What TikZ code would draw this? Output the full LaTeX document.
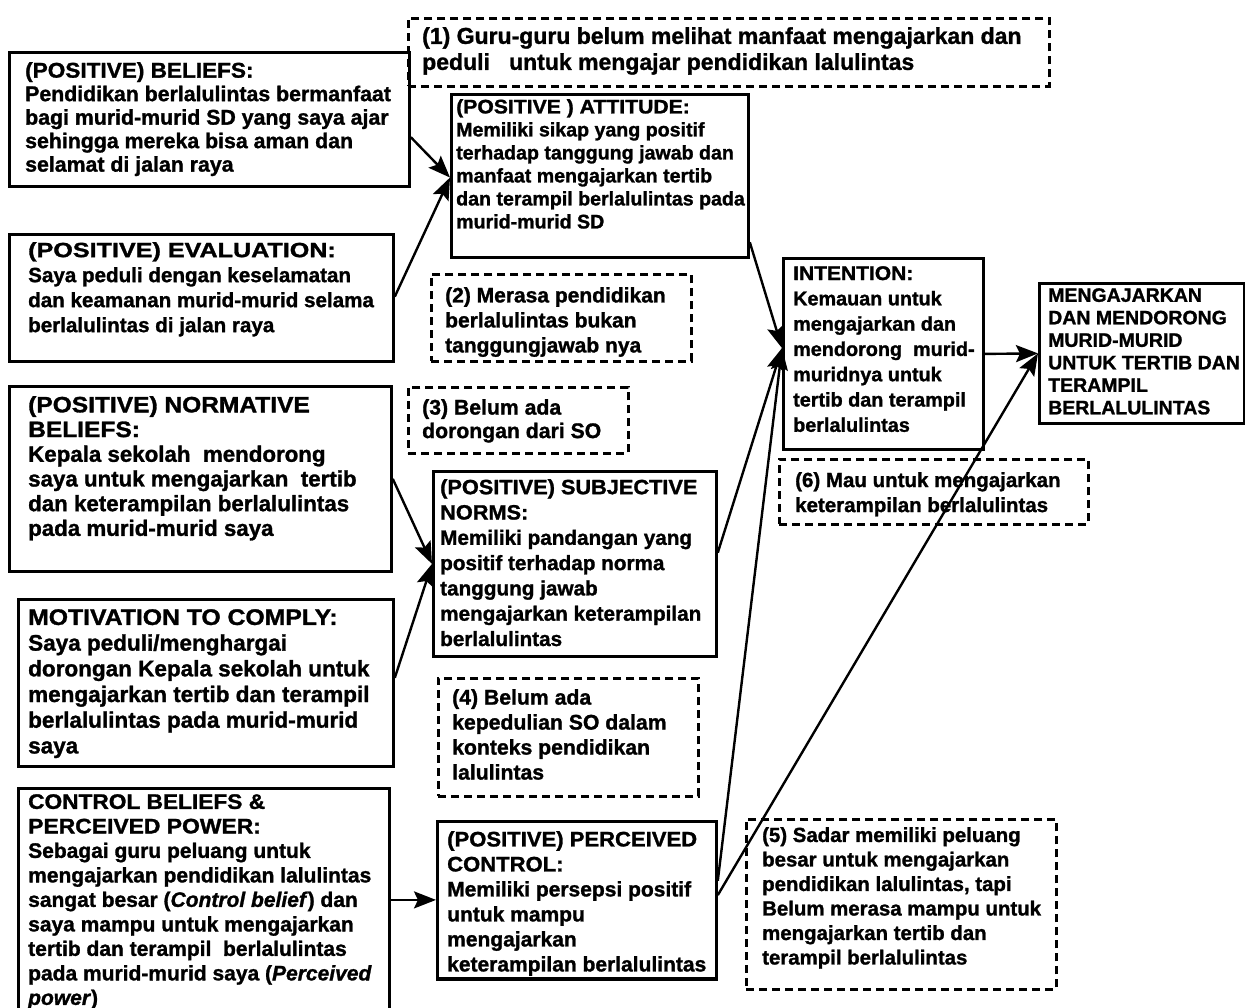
\documentclass[tikz,border=0pt]{standalone}
\usepackage{graphicx}
\usepackage{fontspec}
\setmainfont{Liberation Sans}[BoldFeatures={FakeBold=1.3},BoldItalicFeatures={FakeBold=1.3}]
\usetikzlibrary{arrows.meta,calc}
\newcommand\fsz[2]{\fontsize{#1}{#2}\selectfont\bfseries}
% headings are set wider than the body text
\newcommand\hd[2]{\scalebox{#1}[1]{#2}}
\begin{document}
\begin{tikzpicture}[x=1pt,y=-1pt,
  box/.style={draw, line width=2.8pt, anchor=north west, inner sep=0pt},
  dbox/.style={box, line width=2.6pt, dash pattern=on 8pt off 5pt},
  txt/.style={anchor=north west, inner sep=0pt, align=left,
              font=\fsz{21}{25}, execute at begin node={\rule{0pt}{16pt}}},
  lnk/.style={line width=2.4pt, -{Stealth[length=22pt,width=17pt,inset=4pt]}},
]
\path[use as bounding box] (0,0) rectangle (1245,1007);
\clip (0,0) rectangle (1245,1007);

% ---------- left column: beliefs and evaluations ----------
\node[box, minimum width=400pt, minimum height=134pt] (beliefs) at (8,51) {};
\node[txt, font=\fsz{21.3}{23.5}] (beliefsT) at (25,62) {\hd{1.06}{(POSITIVE) BELIEFS:}\\
Pendidikan berlalulintas bermanfaat\\
bagi murid-murid SD yang saya ajar\\
sehingga mereka bisa aman dan\\
selamat di jalan raya};

\node[box, minimum width=384pt, minimum height=127pt] (evaluation) at (8,233) {};
\node[txt, font=\fsz{20.6}{25}] (evaluationT) at (28,242) {\hd{1.22}{(POSITIVE) EVALUATION:}\\
Saya peduli dengan keselamatan\\
dan keamanan murid-murid selama\\
berlalulintas di jalan raya};

\node[box, minimum width=382pt, minimum height=185pt] (normative) at (8,385) {};
\node[txt, font=\fsz{22.3}{24.7}] (normativeT) at (28,396) {\hd{1.1}{(POSITIVE) NORMATIVE}\\
\hd{1.1}{BELIEFS:}\\
Kepala sekolah\ \ mendorong\\
saya untuk mengajarkan\ \ tertib\\
dan keterampilan berlalulintas\\
pada murid-murid saya};

\node[box, minimum width=375pt, minimum height=167pt] (motivation) at (17,598) {};
\node[txt, font=\fsz{22.5}{25.7}] (motivationT) at (28,609) {\hd{1.1}{MOTIVATION TO COMPLY:}\\
Saya peduli/menghargai\\
dorongan Kepala sekolah untuk\\
mengajarkan tertib dan terampil\\
berlalulintas pada murid-murid\\
saya};

\node[box, minimum width=371pt, minimum height=260pt] (control) at (17,787) {};
\node[txt, font=\fsz{21}{24.5}] (controlT) at (28,794) {\hd{1.08}{CONTROL BELIEFS \&}\\
\hd{1.09}{PERCEIVED POWER:}\\
Sebagai guru peluang untuk\\
mengajarkan pendidikan lalulintas\\
sangat besar (\textit{Control belief}) dan\\
saya mampu untuk mengajarkan\\
tertib dan terampil\ \ berlalulintas\\
pada murid-murid saya (\textit{Perceived}\\
\textit{power})};

% ---------- middle column: attitude, norms, control ----------
\node[dbox, minimum width=641pt, minimum height=68pt] (gap1) at (407,17) {};
\node[txt, font=\fsz{23}{26}] (gap1T) at (422,27) {(1) Guru-guru belum melihat manfaat mengajarkan dan\\
peduli \ \ untuk mengajar pendidikan lalulintas};

\node[box, minimum width=297pt, minimum height=163pt] (attitude) at (450,93) {};
\node[txt, font=\fsz{19.6}{23}] (attitudeT) at (456,99) {\hd{1.08}{(POSITIVE ) ATTITUDE:}\\
Memiliki sikap yang positif\\
terhadap tanggung jawab dan\\
manfaat mengajarkan tertib\\
dan terampil berlalulintas pada\\
murid-murid SD};

\node[dbox, minimum width=260pt, minimum height=87pt] (gap2) at (430,273) {};
\node[txt, font=\fsz{21}{25}] (gap2T) at (445,287) {(2) Merasa pendidikan\\
berlalulintas bukan\\
tanggungjawab nya};

\node[dbox, minimum width=220pt, minimum height=66pt] (gap3) at (407,386) {};
\node[txt, font=\fsz{21.2}{23.5}] (gap3T) at (422,399) {(3) Belum ada\\
dorongan dari SO};

\node[box, minimum width=283pt, minimum height=185pt] (subjective) at (432,470) {};
\node[txt, font=\fsz{20.7}{25.3}] (subjectiveT) at (440,479) {\hd{1.05}{(POSITIVE) SUBJECTIVE}\\
\hd{1.05}{NORMS:}\\
Memiliki pandangan yang\\
positif terhadap norma\\
tanggung jawab\\
mengajarkan keterampilan\\
berlalulintas};

\node[dbox, minimum width=260pt, minimum height=118pt] (gap4) at (437,677) {};
\node[txt, font=\fsz{21.2}{25}] (gap4T) at (452,689) {(4) Belum ada\\
kepedulian SO dalam\\
konteks pendidikan\\
lalulintas};

\node[box, minimum width=279pt, minimum height=157pt] (perceived) at (436,820) {};
\node[txt, font=\fsz{21}{25}] (perceivedT) at (447,831) {\hd{1.05}{(POSITIVE) PERCEIVED}\\
\hd{1.05}{CONTROL:}\\
Memiliki persepsi positif\\
untuk mampu\\
mengajarkan\\
keterampilan berlalulintas};
% the bottom border runs over the last line, as in the printed figure
\draw[line width=2.8pt] (perceived.south west) -- (perceived.south east);

% ---------- right column: intention and behaviour ----------
\node[box, minimum width=200pt, minimum height=191pt] (intention) at (782,257) {};
\node[txt, font=\fsz{19.8}{25.3}] (intentionT) at (793,266) {\hd{1.06}{INTENTION:}\\
Kemauan untuk\\
mengajarkan dan\\
mendorong\ \ murid-\\
muridnya untuk\\
tertib dan terampil\\
berlalulintas};

\node[box, minimum width=205pt, minimum height=140pt] (behaviour) at (1038,282) {};
\node[txt, font=\fsz{19.5}{22.5}] (behaviourT) at (1048,288) {MENGAJARKAN\\
DAN MENDORONG\\
MURID-MURID\\
UNTUK TERTIB DAN\\
TERAMPIL\\
BERLALULINTAS};

\node[dbox, minimum width=309pt, minimum height=65pt] (gap6) at (778,458) {};
\node[txt, font=\fsz{20.5}{25}] (gap6T) at (795,472) {(6) Mau untuk mengajarkan\\
keterampilan berlalulintas};

\node[dbox, minimum width=310pt, minimum height=170pt] (gap5) at (745,818) {};
\node[txt, font=\fsz{20.4}{24.5}] (gap5T) at (762,827) {(5) Sadar memiliki peluang\\
besar untuk mengajarkan\\
pendidikan lalulintas, tapi\\
Belum merasa mampu untuk\\
mengajarkan tertib dan\\
terampil berlalulintas};

% ---------- connectors ----------
\coordinate (attIn) at ($(attitude.north west)!0.51!(attitude.south west)$);
\coordinate (subIn) at (subjective.west);
\coordinate (intIn) at ($(intention.north west)!0.47!(intention.south west)$);

\draw[lnk] ($(beliefs.north east)!0.63!(beliefs.south east)$) -- (attIn);
\draw[lnk] ($(evaluation.north east)!0.49!(evaluation.south east)$) -- (attIn);
\draw[lnk] ($(normative.north east)!0.5!(normative.south east)$) -- (subIn);
\draw[lnk] ($(motivation.north east)!0.47!(motivation.south east)$) -- (subIn);
\draw[lnk] (control.east |- perceived.west) -- (perceived.west);

\draw[lnk] ($(attitude.north east)!0.9!(attitude.south east)$) -- (intIn);
\draw[lnk] ($(subjective.north east)!0.44!(subjective.south east)$) -- (intIn);
\draw[lnk] ($(perceived.north east)!0.38!(perceived.south east)$) -- (intIn);
\draw[lnk] ($(perceived.north east)!0.47!(perceived.south east)$) -- (behaviour.west);
\draw[lnk] (intention.east) -- (behaviour.west);
\end{tikzpicture}
\end{document}
